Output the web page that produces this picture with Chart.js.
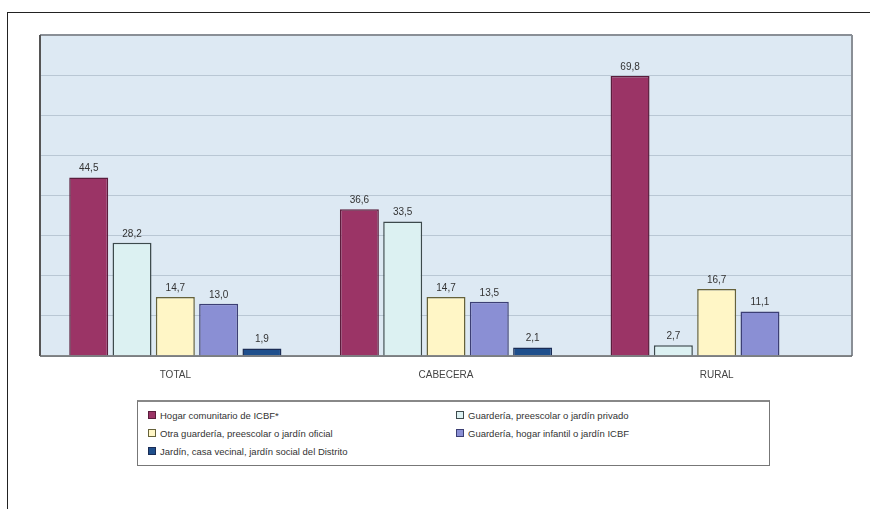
<!DOCTYPE html>
<html>
<head>
<meta charset="utf-8">
<script src="https://cdn.jsdelivr.net/npm/chart.js@4.4.1/dist/chart.umd.min.js"></script>
<style>
  body { margin: 0; background: #fff; font-family: "Liberation Sans", Arial, sans-serif; }
  #frame { position: absolute; left: 7px; top: 12px; width: 900px; height: 520px;
           border-top: 1px solid #222; border-left: 1px solid #222; }
  #wrap { position: absolute; left: 0; top: 0; width: 870px; height: 396px; z-index: 1; }
  #legend { position: absolute; left: 137px; top: 400px; width: 631px; height: 63px;
            border: 1px solid #777; border-top: 2px solid #888; background: #fff;
            font-size: 9.5px; color: #333; }
  .item { position: absolute; white-space: nowrap; line-height: 12px; }
  .mark { display: inline-block; width: 6px; height: 6px; margin-right: 4px;
          vertical-align: middle; border: 1px solid #444; position: relative; top: -1px; }
</style>
</head>
<body>
<div id="frame"></div>
<div id="legend"></div>
<div id="wrap"><canvas id="grafico"></canvas></div>
<script>
const categorias = ["TOTAL", "CABECERA", "RURAL"];
const series = [
  "Hogar comunitario de ICBF*",
  "Guardería, preescolar o jardín privado",
  "Otra guardería, preescolar o jardín oficial",
  "Guardería, hogar infantil o jardín ICBF",
  "Jardín, casa vecinal, jardín social del Distrito"
];
const hogarICBF = [44.5, 36.6, 69.8];
const privado = [28.2, 33.5, 2.7];
const oficial = [14.7, 14.7, 16.7];
const infantilICBF = [13.0, 13.5, 11.1];
const distrito = [1.9, 2.1, null];

const colores = ["#9b3466", "#dcf1f2", "#fff6c6", "#8a8fd4", "#1f4f8c"];
const bordes = ["#5a1d3c", "#3d4a4c", "#66623a", "#3c3f74", "#1a2c55"];
const valores = [hogarICBF, privado, oficial, infantilICBF, distrito];

const fondo = {
  id: 'fondo',
  beforeDraw(chart) {
    const {ctx, chartArea: a} = chart;
    ctx.save();
    ctx.fillStyle = '#dde9f3';
    ctx.fillRect(a.left, a.top, a.right - a.left, a.bottom - a.top);
    ctx.restore();
  },
  afterDatasetsDraw(chart) {
    const {ctx, chartArea: a} = chart;
    ctx.save();
    ctx.strokeStyle = '#8a8f96';
    ctx.lineWidth = 2;
    ctx.beginPath();
    ctx.moveTo(a.left, a.top); ctx.lineTo(a.right, a.top);
    ctx.moveTo(a.right, a.top); ctx.lineTo(a.right, a.bottom);
    ctx.stroke();
    ctx.strokeStyle = '#555';
    ctx.lineWidth = 2;
    ctx.beginPath();
    ctx.moveTo(a.left, a.top); ctx.lineTo(a.left, a.bottom);
    ctx.stroke();
    ctx.strokeStyle = '#666';
    ctx.lineWidth = 1.5;
    ctx.beginPath();
    ctx.moveTo(a.left, a.bottom); ctx.lineTo(a.right, a.bottom);
    ctx.stroke();
    // etiquetas de valores
    ctx.fillStyle = '#333';
    ctx.font = '10px "Liberation Sans", Arial, sans-serif';
    ctx.textAlign = 'center';
    ctx.textBaseline = 'bottom';
    chart.data.datasets.forEach((ds, i) => {
      chart.getDatasetMeta(i).data.forEach((bar, j) => {
        const v = ds.data[j];
        if (v == null) return;
        ctx.fillText(v.toFixed(1).replace('.', ','), bar.x, bar.y - 4);
      });
    });
    ctx.restore();
  }
};

const chart = new Chart(document.getElementById("grafico"), {
  type: 'bar',
  data: {
    labels: categorias,
    datasets: series.map((s, i) => ({
      label: s,
      data: valores[i],
      backgroundColor: colores[i],
      borderColor: bordes[i],
      borderWidth: 1.5,
      borderSkipped: 'bottom'
    }))
  },
  options: {
    responsive: true,
    maintainAspectRatio: false,
    animation: false,
    layout: { padding: { left: 40, right: 18, top: 35, bottom: 10 } },
    plugins: { legend: { display: false }, tooltip: { enabled: false } },
    scales: {
      x: {
        categoryPercentage: 0.8,
        barPercentage: 0.97,
        grid: { display: false },
        border: { display: false },
        ticks: { color: '#444', padding: 5, font: { size: 10, family: '"Liberation Sans", Arial, sans-serif' } }
      },
      y: {
        min: 0, max: 80,
        ticks: { display: false, stepSize: 10 },
        grid: { color: '#b9c7d4', drawTicks: false },
        border: { display: false }
      }
    }
  },
  plugins: [fondo]
});

// leyenda en dos columnas
const pos = [[10, 8], [318, 8], [10, 26], [318, 26], [10, 44]];
const leyenda = document.getElementById('legend');
chart.data.datasets.forEach((ds, i) => {
  const d = document.createElement('div');
  d.className = 'item';
  d.style.left = pos[i][0] + 'px';
  d.style.top = pos[i][1] + 'px';
  d.innerHTML = '<span class="mark" style="background:' + ds.backgroundColor + ';border-color:' + ds.borderColor + '"></span>' + ds.label;
  leyenda.appendChild(d);
});
</script>
</body>
</html>
